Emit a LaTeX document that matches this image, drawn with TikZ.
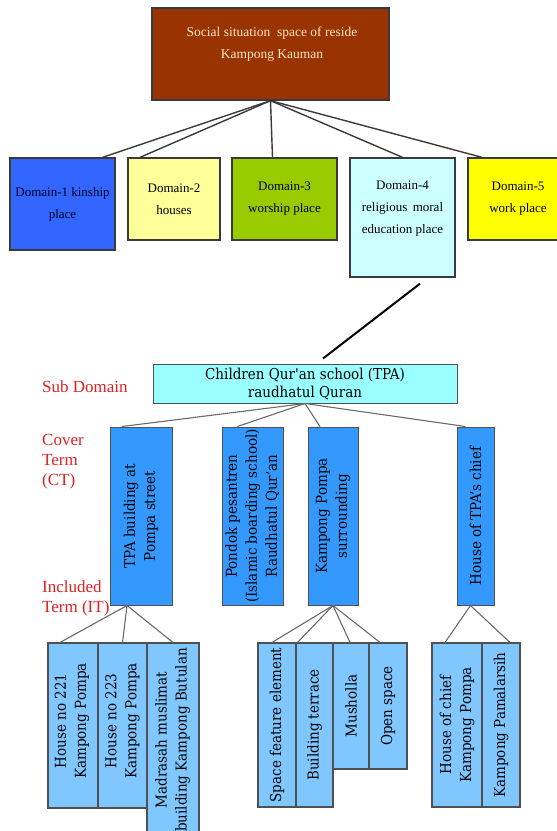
\documentclass[tikz,border=0pt]{standalone}
\usepackage{fontspec}
\setmainfont{Liberation Serif}
\newfontfamily\lowfont{DejaVu Serif Condensed}
\usetikzlibrary{calc}
\definecolor{topfill}{HTML}{993300}
\definecolor{toptext}{HTML}{FFE6C8}
\definecolor{domone}{HTML}{3366FF}
\definecolor{domtwo}{HTML}{FFFF99}
\definecolor{domthree}{HTML}{99CC00}
\definecolor{domfour}{HTML}{CCFFFF}
\definecolor{domfive}{HTML}{FFFF00}
\definecolor{subfill}{HTML}{99FFFF}
\definecolor{ctfill}{HTML}{3399FF}
\definecolor{itfill}{HTML}{80C6FF}
\definecolor{boxline}{HTML}{505050}
\definecolor{linkgray}{HTML}{6A6A6A}
\definecolor{darkline}{HTML}{3A3A3A}
\definecolor{sidered}{HTML}{E02020}
\tikzset{
  box/.style={draw=boxline, line width=1pt, inner sep=0pt},
  dombox/.style={box, draw=darkline, line width=1.3pt, align=center,
    font=\fontsize{13}{22}\selectfont},
  domtext/.style={align=center, font=\fontsize{13}{22}\selectfont},
  ctbox/.style={box, fill=ctfill, minimum height=178pt},
  itbox/.style={box, line width=1.1pt, fill=itfill},
  vtext/.style={rotate=90, align=center, font=\lowfont\fontsize{15}{20}\selectfont},
  link/.style={draw=linkgray, line width=1.1pt},
  toplink/.style={draw=darkline, line width=1.4pt},
  side/.style={text=sidered, align=left, anchor=west, inner sep=0pt,
    font=\fontsize{17}{20}\selectfont},
}
\begin{document}
\begin{tikzpicture}[x=1pt, y=-1pt]
  \useasboundingbox (0,0) rectangle (557,831);
  \clip (0,0) rectangle (557,831);
  % domain level
  \node[dombox, fill=topfill, minimum width=237pt, minimum height=92pt] (top) at (270.5,54) {};
  \node[domtext, text=toptext, font=\fontsize{13.5}{22}\selectfont] (toplab) at (272,44) {Social situation\ \ space of reside\\Kampong Kauman};
  \node[dombox, fill=domone, text=black!85!blue, minimum width=105pt, minimum height=92pt] (d1) at (62.5,204) {Domain-1 kinship\\place};
  \node[dombox, fill=domtwo, minimum width=92pt, minimum height=82pt] (d2) at (174,199) {Domain-2\\houses};
  \node[dombox, fill=domthree, minimum width=105pt, minimum height=82pt] (d3) at (284.5,199) {Domain-3\\worship place};
  \node[dombox, fill=domfour, minimum width=105pt, minimum height=119pt] (d4) at (402.5,217.5) {};
  \node[domtext] (d4lab) at (402.5,208.5) {Domain-4\\religious\, moral\\education place};
  \node[dombox, fill=domfive, minimum width=100pt, minimum height=82pt] (d5) at (518,199) {Domain-5\\work place};
  \draw[toplink] (top.south) -- ([xshift=40pt]d1.north);
  \draw[toplink] (top.south) -- ([xshift=-34pt]d2.north);
  \draw[toplink] (top.south) -- ([xshift=-12pt]d3.north);
  \draw[toplink] (top.south) -- (d4.north);
  \draw[toplink] (top.south) -- ([xshift=-36pt]d5.north);
  % sub domain
  \node[box, fill=subfill, minimum width=304pt, minimum height=39pt, align=center,
    font=\lowfont\fontsize{15}{18}\selectfont] (sub) at (305,383.5) {Children Qur'an school (TPA)\\raudhatul Quran};
  \draw[line width=2pt] ([xshift=17.5pt,yshift=-6pt]d4.south) -- ([xshift=18pt,yshift=5pt]sub.north);
  % cover terms
  \node[ctbox, minimum width=62pt] (ct1) at (141,516) {};
  \node[ctbox, minimum width=61pt] (ct2) at (252.5,516) {};
  \node[ctbox, minimum width=50pt] (ct3) at (333,516) {};
  \node[ctbox, minimum width=37pt] (ct4) at (475.5,516) {};
  \node[vtext] (ct1t) at (ct1) {TPA building at\\Pompa street};
  \node[vtext] (ct2t) at (ct2) {Pondok pesantren\\(Islamic boarding school)\\Raudhatul Qur’an};
  \node[vtext] (ct3t) at (ct3) {Kampong Pompa\\surrounding};
  \node[vtext] (ct4t) at (ct4) {House of TPA’s chief};
  \draw[link] (sub.south) -- ([xshift=-19pt]ct1.north);
  \draw[link] (sub.south) -- ([xshift=-15pt]ct2.north);
  \draw[link] (sub.south) -- ([xshift=-13pt]ct3.north);
  \draw[link] (sub.south) -- ([xshift=-10pt]ct4.north);
  % included terms
  \node[itbox, minimum width=50pt, minimum height=165pt] (it1) at (73,725.5) {};
  \node[itbox, minimum width=49pt, minimum height=165pt] (it2) at (122.5,725.5) {};
  \node[itbox, minimum width=52pt, minimum height=195pt] (it3) at (173,740.5) {};
  \node[itbox, minimum width=38pt, minimum height=164pt] (it4) at (277,725) {};
  \node[itbox, minimum width=37pt, minimum height=164pt] (it5) at (314.5,725) {};
  \node[itbox, minimum width=36pt, minimum height=126pt] (it6) at (351,706) {};
  \node[itbox, minimum width=38pt, minimum height=126pt] (it7) at (388,706) {};
  \node[itbox, minimum width=50pt, minimum height=164pt] (it8) at (457,725) {};
  \node[itbox, minimum width=38pt, minimum height=164pt] (it9) at (501,725) {};
  \node[vtext] (it1t) at (72,721) {House no 221\\Kampong Pompa};
  \node[vtext] (it2t) at (122.5,721) {House no 223\\Kampong Pompa};
  \node[vtext] (it3t) at (172.5,740) {Madrasah muslimat\\building Kampong Butulan};
  \node[vtext] (it4t) at (it4) {Space feature element};
  \node[vtext] (it5t) at (it5) {Building terrace};
  \node[vtext] (it6t) at (it6) {Musholla};
  \node[vtext] (it7t) at (it7) {Open space};
  \node[vtext] (it8t) at (it8) {House of chief\\Kampong Pompa};
  \node[vtext] (it9t) at (it9) {Kampong Pamalarsih};
  \draw[link] ([xshift=-14pt]ct1.south) -- ([xshift=-13pt]it1.north);
  \draw[link] ([xshift=-14pt]ct1.south) -- (it2.north);
  \draw[link] ([xshift=-14pt]ct1.south) -- (it3.north);
  \draw[link] (ct3.south) -- ([xshift=-5pt]it4.north);
  \draw[link] (ct3.south) -- ([xshift=-17pt]it5.north);
  \draw[link] (ct3.south) -- ([xshift=-1pt]it6.north);
  \draw[link] (ct3.south) -- ([xshift=-8pt]it7.north);
  \draw[link] ([xshift=-5pt]ct4.south) -- ([xshift=-12pt]it8.north);
  \draw[link] ([xshift=-5pt]ct4.south) -- ([xshift=9pt]it9.north);
  % level labels
  \node[side] (lsub) at (42,387) {Sub Domain};
  \node[side] (lct) at (42,462) {Cover\\Term\\(CT)};
  \node[side] (lit) at (42,598.5) {Included\\Term (IT)};
\end{tikzpicture}
\end{document}
